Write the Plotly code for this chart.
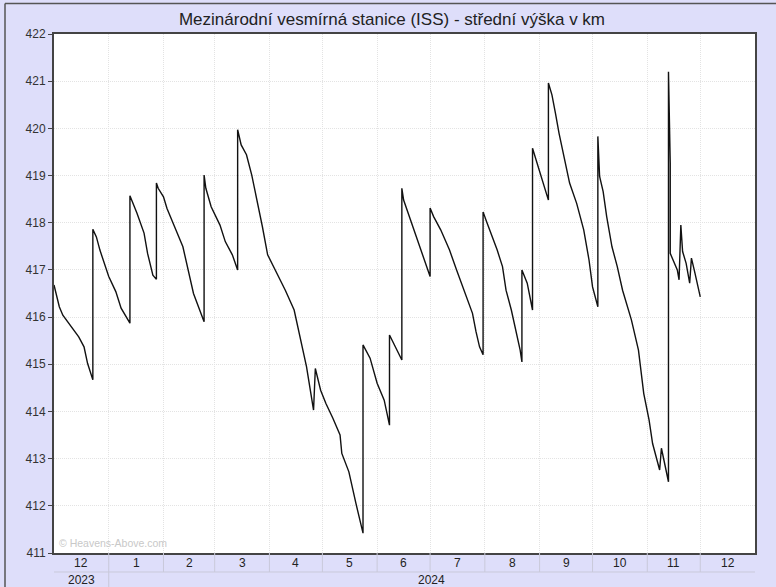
import plotly.graph_objects as go
import pandas as pd

# ---- data ----
dates = [
    "2023-12-01", "2023-12-04", "2023-12-06", "2023-12-10", "2023-12-15", "2023-12-18", "2023-12-20", "2023-12-23",
    "2023-12-23", "2023-12-25", "2023-12-27", "2024-01-01", "2024-01-05", "2024-01-08", "2024-01-13",
    "2024-01-13", "2024-01-17", "2024-01-21", "2024-01-23", "2024-01-26", "2024-01-28",
    "2024-01-28", "2024-01-29", "2024-02-01", "2024-02-03", "2024-02-07", "2024-02-12", "2024-02-18", "2024-02-22", "2024-02-24",
    "2024-02-24", "2024-02-25", "2024-02-28", "2024-03-04", "2024-03-07", "2024-03-11", "2024-03-14",
    "2024-03-14", "2024-03-16", "2024-03-19", "2024-03-22", "2024-03-25", "2024-03-28", "2024-03-31", "2024-04-05",
    "2024-04-10", "2024-04-15", "2024-04-18", "2024-04-22", "2024-04-26",
    "2024-04-27", "2024-04-30", "2024-05-03", "2024-05-07", "2024-05-11", "2024-05-12", "2024-05-16", "2024-05-20", "2024-05-24",
    "2024-05-24", "2024-05-28", "2024-06-01", "2024-06-05", "2024-06-08",
    "2024-06-08", "2024-06-15",
    "2024-06-15", "2024-06-16", "2024-06-18", "2024-06-21", "2024-06-25", "2024-06-28", "2024-07-01",
    "2024-07-01", "2024-07-03", "2024-07-07", "2024-07-12", "2024-07-16", "2024-07-20", "2024-07-25", "2024-07-27",
    "2024-07-29", "2024-07-31",
    "2024-07-31", "2024-08-02", "2024-08-05", "2024-08-08", "2024-08-11", "2024-08-13", "2024-08-16", "2024-08-19",
    "2024-08-21", "2024-08-22",
    "2024-08-22", "2024-08-25", "2024-08-27", "2024-08-28",
    "2024-08-28", "2024-08-30", "2024-09-02", "2024-09-06",
    "2024-09-06", "2024-09-08", "2024-09-10", "2024-09-12", "2024-09-15", "2024-09-18", "2024-09-22", "2024-09-26",
    "2024-09-29", "2024-10-01", "2024-10-04",
    "2024-10-04", "2024-10-05", "2024-10-07", "2024-10-09", "2024-10-12", "2024-10-15", "2024-10-18", "2024-10-23",
    "2024-10-27", "2024-10-30", "2024-11-02", "2024-11-04", "2024-11-08", "2024-11-09", "2024-11-11", "2024-11-13",
    "2024-11-13", "2024-11-14", "2024-11-14", "2024-11-18", "2024-11-19",
    "2024-11-20", "2024-11-21", "2024-11-23", "2024-11-25",
    "2024-11-26", "2024-11-28", "2024-12-01",
]
altitude_km = [
    416.68, 416.22, 416.04, 415.83, 415.58, 415.37, 415.02, 414.67,
    417.86, 417.70, 417.42, 416.86, 416.54, 416.19, 415.87,
    418.57, 418.20, 417.78, 417.35, 416.89, 416.80,
    418.84, 418.73, 418.55, 418.30, 417.94, 417.49, 416.50, 416.08, 415.90,
    419.01, 418.73, 418.34, 417.95, 417.60, 417.32, 417.00,
    419.97, 419.65, 419.44, 419.01, 418.48, 417.92, 417.32, 416.96,
    416.57, 416.15, 415.66, 414.95, 414.03,
    414.91, 414.45, 414.17, 413.85, 413.50, 413.11, 412.72, 412.05, 411.42,
    415.41, 415.13, 414.60, 414.24, 413.71,
    415.62, 415.09,
    418.73, 418.48, 418.27, 417.92, 417.49, 417.21, 416.86,
    418.31, 418.13, 417.85, 417.42, 417.00, 416.57, 416.08, 415.69,
    415.37, 415.20,
    418.23, 418.02, 417.74, 417.42, 417.07, 416.57, 416.15, 415.66,
    415.30, 415.05,
    417.00, 416.72, 416.29, 416.15,
    419.58, 419.33, 418.98, 418.48,
    420.96, 420.71, 420.32, 419.90, 419.37, 418.84, 418.41, 417.85,
    417.21, 416.64, 416.22,
    419.83, 418.98, 418.66, 418.13, 417.49, 417.07, 416.57, 415.94,
    415.30, 414.38, 413.82, 413.32, 412.76, 413.22, 412.83, 412.51,
    421.20, 419.26, 417.35, 417.00, 416.79,
    417.95, 417.39, 417.14, 416.72,
    417.25, 416.93, 416.43,
]
month_labels = ["12", "1", "2", "3", "4", "5", "6", "7", "8", "9", "10", "11", "12"]
year_labels = ["2023", "2024"]
y_ticks = list(range(411, 423))

title_text = "Mezinárodní vesmírná stanice (ISS) - střední výška v km"
watermark = "© Heavens-Above.com"

x_start, x_end = "2023-12-01", "2025-01-01"

# ---- figure ----
W, H = 776, 587
L, R, T, B = 54, 21, 34, 34
ph = H - T - B
pw = W - L - R
FONT = "Liberation Sans, Arial, sans-serif"
SEP = "#C9C9DA"
GRID = "#E3E3E3"

def py(px_below):
    return -px_below / ph

fig = go.Figure()
fig.add_trace(go.Scatter(
    x=pd.to_datetime(dates), y=altitude_km, mode="lines",
    line=dict(color="#111111", width=1.4), hoverinfo="x+y", showlegend=False,
))

month_starts = pd.date_range(x_start, x_end, freq="MS")
annotations = []
shapes = []
for i, lab in enumerate(month_labels):
    s, e = month_starts[i], month_starts[i + 1]
    mid = s + (e - s) / 2
    annotations.append(dict(x=mid, y=py(10), xref="x", yref="paper", text=lab,
                            showarrow=False, yanchor="middle",
                            font=dict(family=FONT, size=12, color="#222222")))
    if i > 0:
        shapes.append(dict(type="line", xref="x", yref="paper", x0=s, x1=s, y0=0, y1=py(19),
                           line=dict(color=SEP, width=1)))

y2023_mid = month_starts[0] + (month_starts[1] - month_starts[0]) / 2
y2024_mid = month_starts[1] + (month_starts[-1] - month_starts[1]) / 2
for lab, xm in zip(year_labels, [y2023_mid, y2024_mid]):
    annotations.append(dict(x=xm, y=py(27), xref="x", yref="paper", text=lab,
                            showarrow=False, yanchor="middle",
                            font=dict(family=FONT, size=12, color="#222222")))
shapes.append(dict(type="line", xref="x", yref="paper", x0=month_starts[1], x1=month_starts[1],
                   y0=py(19), y1=py(40), line=dict(color=SEP, width=1)))
shapes.append(dict(type="line", xref="x", yref="paper", x0=month_starts[0], x1=month_starts[-1],
                   y0=py(19), y1=py(19), line=dict(color=SEP, width=1)))

# outer border (left and top visible)
shapes.append(dict(type="line", xref="paper", yref="paper",
                   x0=(5 - L) / pw, x1=(5 - L) / pw, y0=-1, y1=1 + (T - 3.5) / ph,
                   line=dict(color="#555555", width=1.5)))
shapes.append(dict(type="line", xref="paper", yref="paper",
                   x0=(5 - L) / pw, x1=2, y0=1 + (T - 3.5) / ph, y1=1 + (T - 3.5) / ph,
                   line=dict(color="#555555", width=1.5)))

annotations.append(dict(x=0.004, y=0.004, xref="paper", yref="paper", text=watermark,
                        showarrow=False, xanchor="left", yanchor="bottom",
                        font=dict(family=FONT, size=10.5, color="#C8C8C8")))

fig.update_layout(
    width=W, height=H,
    margin=dict(l=L, r=R, t=T, b=B),
    paper_bgcolor="#DEDEFA",
    plot_bgcolor="#FFFFFF",
    title=dict(text=title_text, xref="container", x=392 / W, xanchor="center",
               y=1 - 19 / H, yanchor="middle",
               font=dict(family=FONT, size=17, color="#222222")),
    xaxis=dict(type="date", range=[x_start, x_end], tick0=x_start, dtick="M1",
               showticklabels=False, ticks="", showgrid=True, gridcolor=GRID,
               griddash="1px,1px", gridwidth=1, showline=True, linecolor="#444444",
               linewidth=2, mirror=True, zeroline=False),
    yaxis=dict(range=[411, 422], tickvals=y_ticks, ticktext=[str(v) for v in y_ticks],
               ticks="outside", ticklen=4, tickcolor="#444444", showgrid=True,
               gridcolor=GRID, griddash="1px,1px", gridwidth=1, showline=True,
               linecolor="#444444", linewidth=2, mirror=True, zeroline=False,
               tickfont=dict(family=FONT, size=12, color="#333333")),
    annotations=annotations,
    shapes=shapes,
)

fig.write_html("out.html", config={"displayModeBar": False},
               post_script="document.body.style.margin='0';document.body.style.overflow='hidden';")
